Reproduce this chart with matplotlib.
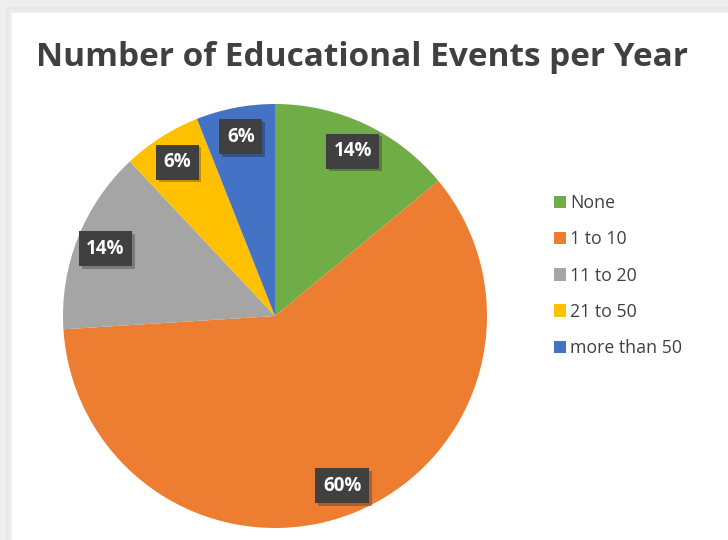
import matplotlib
matplotlib.use("Agg")
import matplotlib.pyplot as plt
from matplotlib.patches import Rectangle, Patch
import matplotlib.patheffects as pe
import numpy as np

categories = ["None", "1 to 10", "11 to 20", "21 to 50", "more than 50"]
values = [14, 60, 14, 6, 6]
labels = ["14%", "60%", "14%", "6%", "6%"]
colors = ["#70AD47", "#ED7D31", "#A5A5A5", "#FFC000", "#4472C4"]
title = "Number of Educational Events per Year"

W, H = 728, 540
fig = plt.figure(figsize=(W / 100, H / 100), dpi=100, facecolor="#eeeeee")

# card with soft shadow
for i, c in enumerate(["#e6e6e6", "#e9e9e9", "#ececec", "#f0f0f0"]):
    off = (4 - i) * 1.5
    fig.patches.append(Rectangle(((12 - off) / W, 0), 1, (H - 13 + off) / H,
                                 transform=fig.transFigure, facecolor=c,
                                 edgecolor="none", zorder=-10))
fig.patches.append(Rectangle((12 / W, 0), 1, (H - 13) / H, transform=fig.transFigure,
                             facecolor="white", edgecolor="none", zorder=-9))

cx, cy, r = 275, 316, 212
ax = fig.add_axes([(cx - r) / W, (H - cy - r) / H, 2 * r / W, 2 * r / H])
ax.set_zorder(5)
ax.patch.set_visible(False)
wedges, _ = ax.pie(values, colors=colors, startangle=90, counterclock=False,
                   wedgeprops=dict(linewidth=0))
ax.set_xlim(-1, 1)
ax.set_ylim(-1, 1)
ax.set_aspect("equal")

theta = 90.0
total = sum(values)
for v, lab in zip(values, labels):
    span = 360.0 * v / total
    mid = np.deg2rad(theta - span / 2)
    theta -= span
    d = 0.86
    x, y = d * np.cos(mid), d * np.sin(mid)
    t = ax.text(x, y, lab, ha="center", va="center",
                color="white", fontsize=13.5, fontweight="bold", family="Open Sans",
                bbox=dict(boxstyle="square,pad=0.4", facecolor="#404040",
                          edgecolor="none"))
    t.get_bbox_patch().set_path_effects([
        pe.SimplePatchShadow(offset=(2, -2), shadow_rgbFace="black", alpha=0.25),
        pe.Normal()])

fig.text(362 / W, 1 - 57 / H, title, ha="center", va="center", fontsize=24,
         fontweight="bold", color="#404040", family="Open Sans")

handles = [Patch(facecolor=c, edgecolor="none") for c in colors]
leg = fig.legend(handles, categories, loc="upper left",
                 bbox_to_anchor=(538 / W, 1 - 178 / H), frameon=False,
                 handlelength=0.7, handleheight=0.7,
                 handletextpad=0.2, labelspacing=1.03,
                 prop=dict(family="Open Sans", size=12.8))
for t in leg.get_texts():
    t.set_color("#404040")

fig.savefig("out.png", dpi=100, facecolor=fig.get_facecolor())
